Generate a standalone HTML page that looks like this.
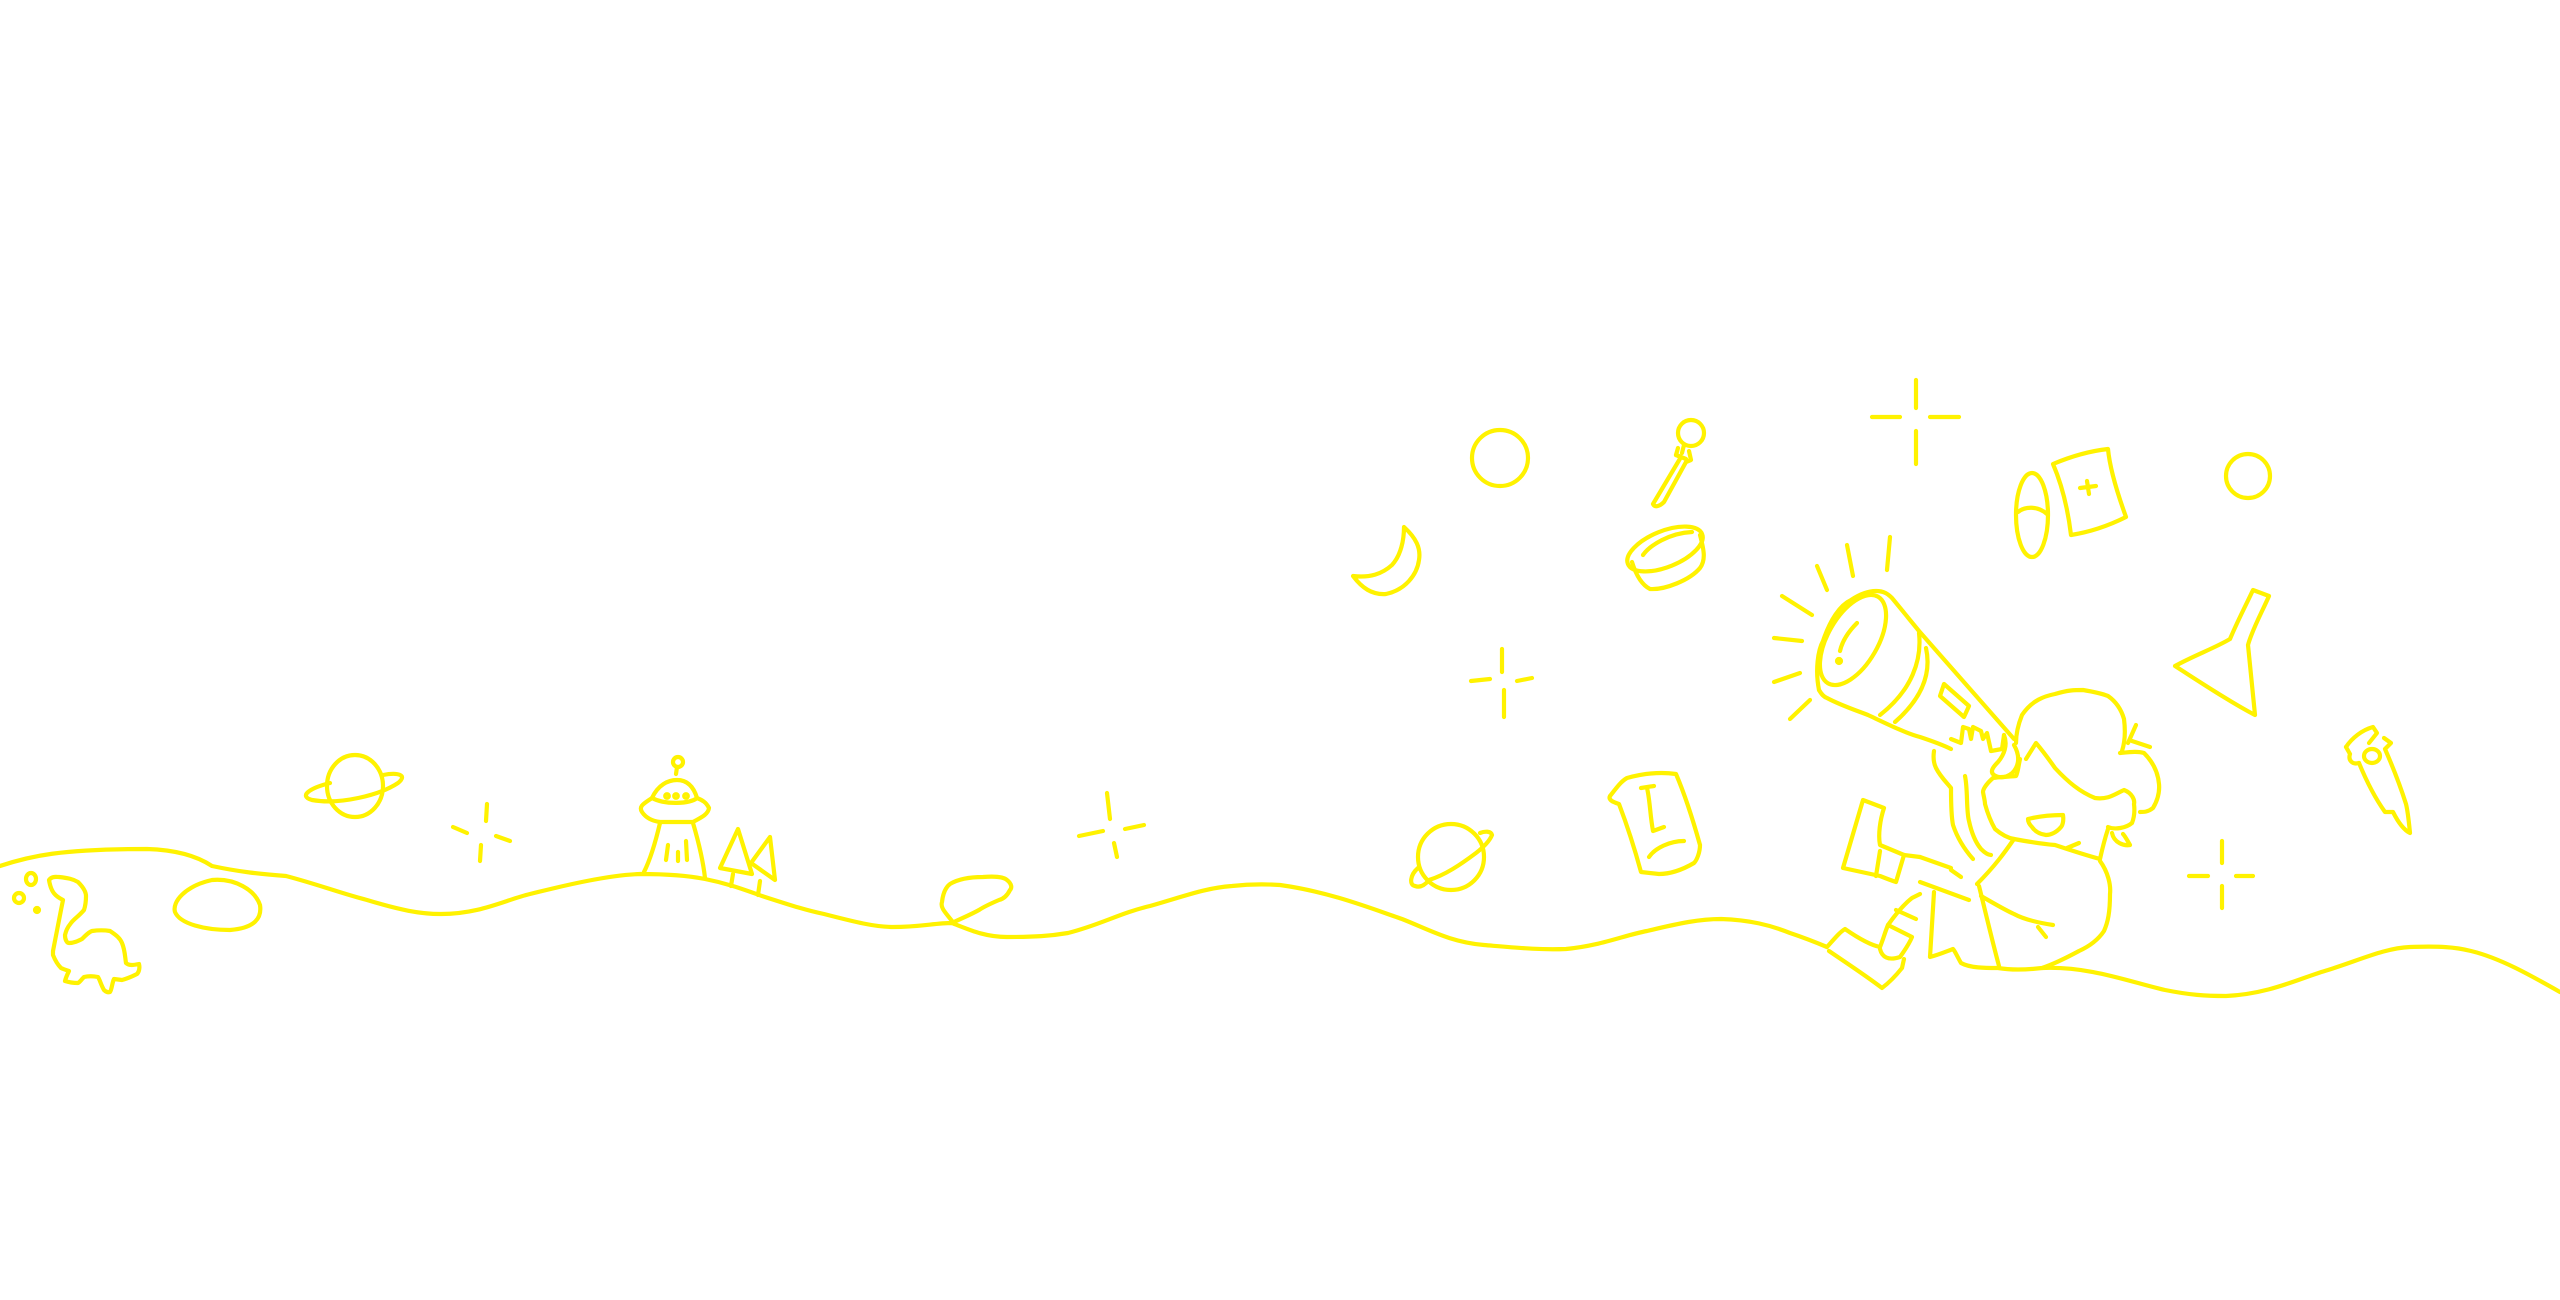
<!DOCTYPE html>
<html><head><meta charset="utf-8"><style>
html,body{margin:0;padding:0;background:#fff;}
svg{display:block}
</style></head><body>
<svg width="2560" height="1300" viewBox="0 0 2560 1300" xmlns="http://www.w3.org/2000/svg">
<g fill="none" stroke="#fff200" stroke-width="4.2" stroke-linecap="round" stroke-linejoin="round">
<path d="M0,866 C30,856 60,849 147,849 C180,850 200,858 212,866 C240,872 260,874 286,876 C320,885 340,893 367,900 C400,910 420,914 441,914 C480,914 505,900 530,894 C570,884 610,875 640,874 C670,874 690,876 705,879 C730,884 745,890 762,896 C790,905 805,910 824,914 C855,922 875,927 893,927 C920,927 935,923 952,923 C970,930 985,937 1007,937 C1035,937 1050,936 1068,933 C1100,925 1120,913 1150,906 C1185,896 1205,888 1232,886 C1250,884 1265,884 1280,885 C1330,892 1370,908 1402,919 C1430,930 1450,942 1484,945 C1520,948 1540,950 1566,949 C1600,946 1625,935 1647,931 C1680,923 1700,919 1721,919 C1750,920 1770,925 1790,933 C1805,938 1815,942 1827,947"/>
<path d="M2042,968 C2090,966 2130,982 2165,990 C2190,995 2205,996 2226,996 C2270,994 2300,978 2328,970 C2360,960 2385,948 2410,947 C2440,946 2455,947 2471,951 C2500,958 2530,975 2560,992"/>
<ellipse cx="31" cy="879" rx="5" ry="6"/><ellipse cx="19" cy="898" rx="5" ry="5"/><circle cx="37" cy="910" r="2"/>
<path d="M53,951 L61,910 L63,900 C55,896 51,892 49,880 C52,876 56,877 59,877 C68,878 73,879 78,882 C84,888 86,892 86,896 C86,903 85,907 84,910 C79,916 74,919 71,923 C67,928 66,931 65,935 C65,940 67,943 69,943 C74,943 78,941 82,939 C86,935 89,932 92,931 C99,930 104,930 110,931 C116,935 120,938 122,943 C125,950 125,957 126,963 C129,966 134,965 139,964 C140,968 139,972 137,974 C131,977 126,979 122,980 L114,979 C112,983 112,989 110,992 C107,993 105,991 104,990 C101,985 100,980 98,977 C93,976 88,976 84,977 C81,980 80,982 78,983 C73,983 68,982 65,981 C66,977 68,973 69,971 C66,970 63,969 61,968 C57,964 55,960 53,955 Z"/>
<path d="M212,880 C235,878 255,890 260,905 C262,918 255,928 230,930 C205,930 180,924 175,912 C172,902 185,886 212,880Z"/>
<ellipse cx="355" cy="786" rx="28" ry="31"/>
<path d="M330,783 C310,788 298,796 312,800 C340,805 380,795 398,783 C408,775 398,772 383,775"/>
<path d="M453,827 L467,833 M496,836 L510,841 M487,804 L486,821 M481,845 L480,861"/>
<circle cx="678" cy="762" r="5"/><path d="M677,767 L676,774"/>
<path d="M652,798 C658,785 668,780 677,780 C688,780 694,788 697,798 C690,804 665,805 652,798Z"/>
<path d="M652,798 C645,803 638,806 642,812 C646,818 652,821 660,822 L693,822 C700,818 708,815 709,808 C706,802 702,800 697,798"/>
<circle cx="667" cy="796" r="1.8"/><circle cx="676" cy="796" r="1.8"/><circle cx="686" cy="796" r="1.8"/>
<path d="M660,823 C656,840 650,860 644,872 M693,823 C698,840 703,860 705,878 M668,845 L666,860 M678,852 L678,861 M686,841 L687,860"/>
<path d="M720,868 L738,829 L752,874 Z M733,874 L731,886"/>
<path d="M751,863 L770,837 L775,880 Z M760,881 L758,895"/>
<path d="M952,921 C946,913 940,908 942,902 C943,893 946,887 950,884 C960,878 972,877 983,877 C995,876 1004,877 1007,880 C1012,884 1012,888 1010,890 C1007,896 1003,899 999,900 C992,903 985,906 979,910 C970,915 960,919 952,923"/>
<path d="M1107,793 L1110,819 M1079,836 L1103,831 M1125,829 L1144,825 M1114,843 L1117,857"/>
<circle cx="1500" cy="458" r="28"/>
<path d="M1404,527 C1416,538 1421,548 1419,560 C1417,575 1405,590 1386,594 C1372,595 1362,588 1353,576 C1370,578 1382,574 1392,565 C1401,555 1404,540 1404,527Z"/>
<path d="M1502,649 L1502,672 M1504,690 L1504,717 M1471,681 L1490,679 M1517,681 L1532,678"/>
<circle cx="1691" cy="433" r="13"/>
<path d="M1678,448 L1676,455 L1681,457 L1653,504 C1655,508 1660,506 1664,502 L1686,462 L1691,460 L1689,451"/>
<path d="M1684,445 L1682,453 M1676,455 L1686,459"/>
<ellipse cx="1665" cy="549" rx="40" ry="18" transform="rotate(-22 1665 549)"/>
<path d="M1632,562 C1636,575 1642,585 1650,589 C1665,590 1690,580 1700,568 C1706,560 1704,550 1700,535"/>
<path d="M1643,555 C1650,545 1670,533 1692,532"/>
<path d="M1817,566 L1827,590 M1847,545 L1853,576 M1890,537 L1887,570 M1782,596 L1812,615 M1774,638 L1802,641 M1774,682 L1800,673 M1790,719 L1810,700"/>
<path d="M1916,380 L1916,408 M1872,417 L1900,417 M1930,417 L1959,417 M1916,431 L1916,464"/>
<path d="M1819,690 C1815,670 1818,650 1823,641 C1830,620 1840,605 1851,600 C1860,594 1868,591 1876,591 C1884,591 1888,594 1892,598 L1919,631 L2014,739"/>
<path d="M1819,690 C1822,695 1824,697 1827,698 C1840,705 1855,710 1868,715 C1885,723 1905,733 1920,737 C1935,742 1945,746 1951,749"/>
<ellipse cx="1853" cy="640" rx="25" ry="50" transform="rotate(30 1853 640)"/>
<path d="M1857,623 C1848,632 1842,642 1840,651"/>
<circle cx="1839" cy="661" r="2"/>
<path d="M1919,633 C1922,660 1912,690 1880,715"/>
<path d="M1926,648 C1932,675 1920,700 1895,722"/>
<path d="M1944,684 L1969,706 L1964,717 L1940,696 Z"/>
<path d="M1934,751 C1933,758 1934,764 1936,768 C1940,776 1946,782 1951,788 C1951,800 1951,815 1953,825 C1958,840 1965,850 1973,859"/>
<path d="M1951,739 L1961,743 L1963,727 L1969,729 L1971,739 L1973,727 L1981,731 L1983,739 L1987,733 L1991,751 L2002,749 L2004,735"/>
<path d="M1965,776 C1968,790 1966,810 1969,821 C1972,835 1976,843 1981,849 C1985,853 1988,855 1991,855"/>
<path d="M2004,735 C2008,745 2004,755 1998,762 C1992,768 1990,772 1994,775 C2002,780 2012,776 2016,768 C2020,760 2018,752 2014,745"/>
<path d="M2016,743 C2016,730 2020,720 2022,715 C2032,700 2045,696 2055,694 C2068,690 2075,690 2083,690 C2095,692 2103,694 2108,696 C2118,703 2122,712 2124,719 C2126,735 2124,745 2122,751"/>
<path d="M2120,753 C2130,752 2138,751 2144,753 C2153,762 2158,772 2159,784 C2160,795 2156,803 2153,808 C2148,812 2144,812 2140,812"/>
<path d="M2128,743 L2136,725 M2132,741 L2150,747"/>
<path d="M2026,759 L2036,743 C2042,750 2048,758 2055,768 C2068,782 2080,792 2095,798 C2108,800 2115,794 2124,790 C2132,793 2135,800 2134,804 C2135,812 2134,818 2132,823 C2126,828 2115,830 2108,827"/>
<path d="M2020,759 C2018,768 2018,772 2016,776 C2005,777 1998,777 1993,778 C1985,785 1983,790 1983,792 C1984,798 1985,801 1985,804 C1988,815 1991,822 1995,829 C2002,835 2008,838 2014,839"/>
<path d="M2028,819 C2040,816 2052,815 2063,815 C2064,822 2062,826 2061,827 C2056,833 2050,835 2046,835 C2038,834 2034,830 2032,827 C2030,825 2028,822 2028,819Z"/>
<path d="M2079,843 L2067,848"/>
<path d="M2014,839 C2030,842 2042,844 2055,845 C2070,850 2085,855 2100,859 C2102,850 2105,838 2108,829"/>
<path d="M2112,833 C2114,843 2124,846 2130,845 C2127,840 2125,836 2123,834"/>
<path d="M2100,861 C2108,872 2111,885 2110,894 C2110,912 2108,922 2104,931 C2098,940 2090,946 2079,951 C2066,958 2054,964 2042,968 C2025,970 2010,970 1998,968 C1985,968 1970,968 1961,963 C1957,956 1955,951 1953,949 C1945,952 1938,955 1930,957 L1934,892"/>
<path d="M1979,886 C1985,910 1992,940 1999,966"/>
<path d="M1981,896 C1995,904 2005,910 2014,914 C2025,920 2040,923 2053,925 M2038,927 L2046,937"/>
<path d="M2014,839 C2005,852 1995,866 1977,884 M1951,870 L1961,877 M1920,857 L1951,868 M1920,882 L1969,900"/>
<path d="M1843,868 L1863,800 L1884,808 C1880,820 1878,835 1880,845 L1904,855 L1896,882 C1890,880 1885,878 1880,876 L1843,868 Z"/>
<path d="M1880,851 L1876,876 M1904,855 L1920,857"/>
<path d="M1827,947 C1835,938 1840,932 1845,929 C1858,938 1870,945 1880,947 C1883,940 1885,932 1888,925 C1895,915 1903,905 1912,898 L1920,894"/>
<path d="M1829,951 C1845,962 1865,975 1882,988 C1890,982 1898,973 1902,968 L1904,959"/>
<path d="M1880,949 C1882,957 1888,961 1900,957 C1905,950 1910,942 1912,937 M1888,925 L1912,937 M1896,910 L1916,919"/>
<ellipse cx="2032" cy="515" rx="16" ry="42"/>
<path d="M2018,512 C2025,506 2038,506 2047,514"/>
<path d="M2053,464 C2072,456 2090,451 2108,449 C2110,470 2118,495 2126,517 C2108,526 2090,532 2071,535 C2068,510 2062,485 2053,464Z"/>
<path d="M2087,481 L2089,494 M2080,488 L2096,486"/>
<circle cx="2248" cy="476" r="22"/>
<path d="M2253,590 L2269,596 C2262,612 2252,630 2248,645 L2255,715 C2230,702 2200,682 2175,666 C2195,655 2215,648 2230,639 C2238,620 2246,605 2253,590Z"/>
<path d="M2346,747 C2352,738 2362,730 2373,727 L2377,733 L2369,743"/>
<path d="M2359,763 C2366,780 2375,798 2385,812 L2393,812 C2398,822 2404,830 2410,833 C2409,823 2408,812 2406,804 C2400,785 2392,765 2385,749 L2391,743 L2384,738"/>
<path d="M2350,754 C2348,760 2352,765 2359,763 M2346,747 L2350,754"/>
<ellipse cx="2372" cy="756" rx="8" ry="7"/>
<path d="M2222,841 L2222,863 M2222,886 L2222,908 M2189,876 L2208,876 M2236,876 L2253,876"/>
<path d="M1619,804 C1613,802 1608,800 1610,796 C1615,790 1620,782 1627,778 C1645,773 1662,772 1676,774 C1685,795 1693,820 1700,845 C1700,852 1697,860 1694,863 C1682,870 1670,874 1659,874 L1641,872 C1635,850 1627,825 1619,804Z"/>
<path d="M1641,788 L1654,786 M1647,788 C1650,800 1650,815 1653,831 L1664,827"/>
<path d="M1649,857 C1655,848 1670,841 1684,841"/>
<circle cx="1451" cy="857" r="33"/>
<path d="M1418,868 C1410,875 1409,885 1415,886 C1420,888 1425,885 1429,880 M1429,880 C1445,875 1460,865 1476,853 C1485,846 1490,840 1492,835 C1491,831 1485,831 1480,833"/>
</g>
</svg>
</body></html>
